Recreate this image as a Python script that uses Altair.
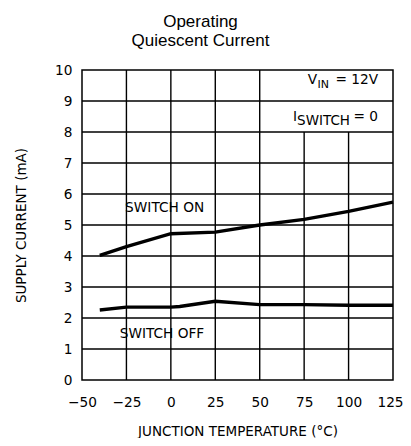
import altair as alt
import pandas as pd

temps = [-40, -25, 0, 25, 50, 75, 100, 125]
switch_on = [4.02, 4.3, 4.72, 4.77, 5.0, 5.18, 5.44, 5.74]
off_temps = [-40, -25, 0, 5, 25, 50, 75, 100, 125]
switch_off = [2.26, 2.35, 2.35, 2.37, 2.54, 2.43, 2.43, 2.41, 2.41]

x_ticks = [-50, -25, 0, 25, 50, 75, 100, 125]
y_ticks = list(range(0, 11))
h_grid = [1, 2, 3, 4, 5, 6, 7, 8, 9]
v_grid_full = [-25, 0, 25, 50]
v_grid_part = [75, 100]

FONT = "DejaVu Sans"
FS = 13.7

on_df = pd.DataFrame({"t": temps, "i": switch_on, "s": "on"})
off_df = pd.DataFrame({"t": off_temps, "i": switch_off, "s": "off"})
lines_df = pd.concat([on_df, off_df])

xs = alt.Scale(domain=[-50, 125], nice=False, zero=False)
ys = alt.Scale(domain=[0, 10], nice=False, zero=False)

x_axis = alt.Axis(values=x_ticks, title="JUNCTION TEMPERATURE (°C)",
                  grid=False, ticks=False, domain=False, labelFont=FONT, labelFontSize=FS,
                  labelColor="black", labelPadding=15, labelFlush=False, labelOverlap=False,
                  labelOffset={"condition": {"test": "datum.value == 125", "value": -3}, "value": 0},
                  titleFont=FONT, titleFontSize=13.5,
                  titleFontWeight="normal", titleColor="black", titlePadding=16)
y_axis = alt.Axis(values=y_ticks, title="SUPPLY CURRENT (mA)",
                  grid=False, ticks=False, domain=False, labelFont=FONT, labelFontSize=FS,
                  labelColor="black", labelPadding=10, labelFlush=False, labelOverlap=False,
                  titleFont=FONT, titleFontSize=13.5,
                  titleFontWeight="normal", titleColor="black", titlePadding=26)

def X(f):
    return alt.X(f"{f}:Q", scale=xs, axis=x_axis)

def Y(f):
    return alt.Y(f"{f}:Q", scale=ys, axis=y_axis)

hg = alt.Chart(pd.DataFrame({"i": h_grid})).mark_rule(color="black", strokeWidth=1.4).encode(
    y=Y("i"))
vgf = alt.Chart(pd.DataFrame({"t": v_grid_full})).mark_rule(color="black", strokeWidth=1.4).encode(
    x=X("t"))
vgp = alt.Chart(pd.DataFrame({"t": v_grid_part, "y0": [0, 0], "y1": [8, 8]})).mark_rule(
    color="black", strokeWidth=1.4).encode(
    x=X("t"), y=Y("y0"), y2="y1:Q")

lines = alt.Chart(lines_df).mark_line(color="black", strokeWidth=3.4).encode(
    x=X("t"), y=Y("i"), detail="s:N")

labels_df = pd.DataFrame({"t": [-3.5, -5], "i": [5.55, 1.48], "txt": ["SWITCH ON", "SWITCH OFF"]})
labels = alt.Chart(labels_df).mark_text(font=FONT, fontSize=FS, color="black",
                                        align="center", baseline="middle").encode(
    x=X("t"), y=Y("i"), text="txt:N")

ann_df = pd.DataFrame({"t": [125], "y1": [9.55], "y2": [8.35]})
def piece(txt, ycol, dx, dy, size):
    return alt.Chart(ann_df).mark_text(text=txt, font=FONT, fontSize=size, color="black",
                                       align="right", baseline="alphabetic", dx=dx, dy=dy).encode(
        x=X("t"), y=Y(ycol))

ann = [
    piece("= 12V", "y1", -15, 0, FS),
    piece("IN", "y1", -64, 4, 11),
    piece("V", "y1", -76, 0, FS),
    piece("= 0", "y2", -15, 0, FS),
    piece("SWITCH", "y2", -43, 4, 13.5),
    piece("I", "y2", -96, 0, FS),
]

chart = alt.layer(hg, vgf, vgp, lines, labels, *ann).properties(
    width=311, height=310,
    title=alt.Title(["Operating", "Quiescent Current"], font="Liberation Sans", fontSize=17,
                    fontWeight="normal", color="black", anchor="middle", dx=-37, offset=13,
                    lineHeight=19),
    autosize="none",
    padding={"left": 74, "top": 62, "right": 10, "bottom": 58},
).configure_view(stroke="black", strokeWidth=1.5)

chart.save("out.html", embed_options={"renderer": "svg", "actions": False})
